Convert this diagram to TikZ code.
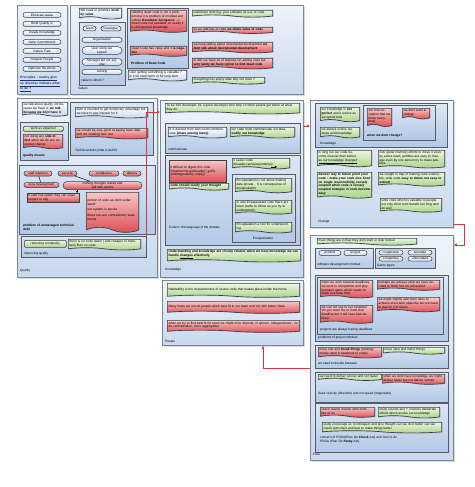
\documentclass[tikz,border=0pt]{standalone}
\usepackage{fontspec}
\setmainfont{Liberation Sans}
\usepackage{tikz}
\usetikzlibrary{calc,arrows.meta,shapes,shapes.symbols,shapes.misc,positioning,shadows}
\usepackage{xcolor}
\definecolor{mpanel}{HTML}{7d8894}
\definecolor{mpantop}{HTML}{edf3fa}
\definecolor{mpanbot}{HTML}{c9d9ee}
\definecolor{mgrptop}{HTML}{dbe6f4}
\definecolor{mgrpbot}{HTML}{b3c9e6}
\definecolor{mdark}{HTML}{3a3f45}
\definecolor{mgtop}{HTML}{ecf6e0}
\definecolor{mgbot}{HTML}{abd38a}
\definecolor{mrtop}{HTML}{f7c6c6}
\definecolor{mrbot}{HTML}{dc4f55}
\definecolor{mbtop}{HTML}{ffffff}
\definecolor{mbbot}{HTML}{c4d6ee}
\definecolor{mred}{HTML}{d9363e}
\definecolor{mnavy}{HTML}{1d2f6b}
\tikzset{
  every node/.style={font=\fontsize{3.2}{3.8}\selectfont},
  panel/.style={draw=mpanel,line width=0.9pt,top color=mpantop,bottom color=mpanbot,
    anchor=north west,inner sep=0pt,
    drop shadow={opacity=0.3,shadow xshift=1.2pt,shadow yshift=-1.2pt}},
  group/.style={draw=mdark!85,line width=0.85pt,top color=mgrptop,bottom color=mgrpbot,
    anchor=north west,inner sep=0pt,
    drop shadow={opacity=0.25,shadow xshift=0.8pt,shadow yshift=-0.8pt}},
  note/.style={tape,tape bend top=none,tape bend bottom=out and in,tape bend height=2.2pt,
    draw=mdark,line width=0.65pt,anchor=north west,align=left,inner xsep=1.2pt,inner ysep=0.8pt,
    drop shadow={opacity=0.3,shadow xshift=0.7pt,shadow yshift=-0.7pt}},
  gnote/.style={note,top color=mgtop,bottom color=mgbot},
  rnote/.style={note,top color=mrtop,bottom color=mrbot},
  bnote/.style={note,top color=mbtop,bottom color=mbbot},
  rbox/.style={rectangle,draw=mdark,line width=0.65pt,top color=mrtop,bottom color=mrbot,
    anchor=north west,align=left,inner xsep=1.2pt,inner ysep=1pt,
    drop shadow={opacity=0.3,shadow xshift=0.7pt,shadow yshift=-0.7pt}},
  gbox/.style={rectangle,rounded corners=1.2pt,draw=mdark,line width=0.6pt,top color=mgtop,
    bottom color=mgbot,anchor=north west,inner sep=0.6pt},
  pill/.style={rounded rectangle,draw=mdark,line width=0.5pt,top color=white,bottom color=mbbot,
    minimum height=5pt,inner xsep=1pt,inner ysep=0.4pt,align=center},
  rpill/.style={pill,top color=mrtop,bottom color=mrbot},
  glabel/.style={anchor=north west,inner sep=0pt,align=left},
  bl/.style={font=\fontsize{3.2}{3.8}\selectfont\bfseries},
  blk/.style={draw=black,line width=0.45pt},
  blkarr/.style={blk,-{Triangle[length=2pt,width=2pt]}},
  redarr/.style={draw=mred,line width=0.6pt,-{Triangle[length=3pt,width=2.8pt]}},
}

\begin{document}
\begin{tikzpicture}[x=1pt,y=-1pt]
    \useasboundingbox (0,0) rectangle (474,487);
    % principles
    \node[panel,minimum width=50pt,minimum height=89pt] (prin) at (17,5) {};
    \foreach \t [count=\i] in {Eliminate waste,Build Quality in,Create Knowledge,Defer Commitment,Deliver Fast,Respect People,Optimize the whole}
      \node[pill,minimum width=40pt] (pr\i) at (42,6+9*\i) {\t};
    \node[glabel,bl,text=mnavy,text width=46pt] (prinlbl) at (20,76) {\underline{Principles : mainly give} \underline{us directive indicate what} \underline{to do ?}};
    % values
    \node[panel,minimum width=233pt,minimum height=89pt] (vals) at (70,5) {};
    \node[glabel] (valslbl) at (78,87) {Values};
    \node[bnote,text width=40pt] (prio) at (79,8) {We need to prioritize \textbf{work by value}};
    \node[group,minimum width=46pt,minimum height=63pt] (whom) at (79,22) {};
    \node[pill,minimum width=15pt] (team) at (89.5,28.5) {Team};
    \node[pill,minimum width=22pt] (dev) at (111,28.5) {Developer};
    \foreach \t/\y [count=\i] in {Organisation/40,{User using our\\system}/50.5,{Manager but not any\\else}/62,Society/72}
      \node[pill,minimum width=42pt] (wh\i) at (102,\y) {\t};
    \node[glabel] (whomlbl) at (81,79) {value to whom ?};
    % dead code
    \node[group,minimum width=61pt,minimum height=60pt] (dead) at (127,8) {};
    \node[rnote,text width=54pt] (arrog) at (130,10) {Deleting dead code is not a problem but it is problem of mindset and culture \textbf{Developer Arrogance} -- I mean code not available on reality it is unimportant knowledge};
    \node[rnote,text width=54pt] (negval) at (130,46) {Dead Code has value and it \textbf{is negative}};
    \node[glabel,bl] (deadlbl) at (131,62) {Problem of Dead Code};
    \node[bnote,text width=56pt] (term) at (128,70) {User getting something is valuable ? is it for short term or for long term};
    \node[gnote,text width=78pt] (buy) at (192,10) {customers dont buy your software its use of code};
    \node[rnote,text width=78pt] (dilute) at (192,27) {so we add line of code \textbf{we dilute value of code}};
    \node[rnote,text width=78pt] (decr) at (192,42) {we keep talking about incremental development \textbf{we dont talk about decremental development}};
    \node[rnote,text width=78pt] (ide) at (192,58) {In IDE we have lot of features for adding code but \textbf{very rarely we have option to find dead code}};
    \node[gnote,text width=70pt] (expiry) at (192,77) {\textit{Everything has expiry date why not code ?}};
    % quality
    \node[panel,minimum width=140pt,minimum height=179pt] (qual) at (17,98) {};
    \node[glabel] (quallbl) at (20,269) {Quality};
    \node[bnote,text width=43pt] (talk) at (22,102) {we talk about quality not because we have it, \textbf{we talk because we dont have it}};
    \node[group,minimum width=48pt,minimum height=38pt] (qmeans) at (20,122) {};
    \node[gbox,minimum width=40pt,minimum height=5pt] (expct) at (23,126) {work as expected};
    \node[rnote,text width=37pt] (side) at (23,134) {not doing any \textbf{side effect} when we do any expected change};
    \node[glabel,bl] (qmlbl) at (23,154) {quality means};
    \node[group,minimum width=83pt,minimum height=53pt] (debt) at (70,102) {};
    \node[bnote,text width=70pt] (invent) at (75,107) {debt is invented to get temporary advantage but we have to pay interest for it};
    \node[rnote,text width=70pt] (payback) at (75,128) {we should be very good at paying back debt and not creating new one};
    \node[glabel] (debtlbl) at (75,149) {Technical debt (what is debt?)};
    % unmanaged debt
    \node[group,minimum width=136pt,minimum height=69pt] (unman) at (19,165) {};
    \foreach \t/\x/\w [count=\i] in {staff retention/38/30pt,security/67.5/21pt,compliance/104/32pt,defects/132/20pt}
      \node[rpill,minimum width=\w] (rk\i) at (\x,173.5) {\t};
    \node[rpill,minimum width=37pt] (slow) at (41.5,185) {slow development};
    \node[rpill,minimum width=81pt,minimum height=8pt] (weeks) at (102.5,185.5) {nothing changes makes and\\will take weeks};
    \node[rbox,text width=50pt] (leave) at (27,193) {if staff has option they can leave project or org};
    \node[rnote,text width=50pt,minimum height=40pt,tape bend height=5pt] (secure) at (86,192) {portion of code we dont understand\\[2pt]our system is secure\\[2pt]these two are contradictory statements};
    \node[glabel,bl,text width=55pt] (unlbl) at (23,224) {problem of unmanaged technical debt};
    \draw[blk] (rk1) -- (slow);
    \draw[blk] (rk2) -- (weeks);
    \draw[blkarr] (weeks.south -| leave.north east) ++(-3,0) -- ([xshift=-3pt]leave.north east);
    % improving quality
    \node[group,minimum width=125pt,minimum height=21pt] (improve) at (21,236) {};
    \node[gbox,minimum width=42pt,minimum height=7pt] (cmplx) at (24,240) {removing complexity};
    \node[gnote,text width=70pt] (nocode) at (68,239) {there is no code faster ( and cheaper to maintain) than no code};
    \node[glabel] (implbl) at (24,252) {improving quality};
    % knowledge
    \node[panel,minimum width=143pt,minimum height=177pt] (know) at (160,100) {};
    \node[glabel] (knowlbl) at (165,268) {Knowledge};
    \node[gnote,text width=132pt] (tenx) at (165,103) {To be 10X developer, be a good developer who help 10 other people get better at what they do};
    \node[group,minimum width=135pt,minimum height=30pt] (comm) at (165,123) {};
    \node[bnote,text width=56pt] (latin) at (168,127) {It is derived from latin word communicare \textbf{(share among many)}};
    \node[gnote,text width=62pt] (codify) at (230,127) {our code must communicate our idea, \textbf{codify our knowledge}};
    \node[glabel] (commlbl) at (168,148) {communicate};
    \node[group,minimum width=135pt,minimum height=90pt] (domain) at (165,155) {};
    \node[rbox,text width=55pt,minimum height=22pt] (digest) at (169,160) {it difficult to digest this code if(ipathwords.getReader() getTesentmt(portfolio) .impl())};
    \node[gnote,text width=57pt] (clarify) at (169,183) {\textbf{\textit{code should clarify your thought}}};
    \node[glabel] (domlbl) at (169,226) {Code in the language of the domain};
    \node[gnote,text width=55pt] (easier) at (232,158) {it easier code\\if(reader.canView(portfolio))};
    \node[group,minimum width=63pt,minimum height=68pt] (encap) at (232,174) {};
    \draw[blkarr] ([xshift=10pt]easier.south) -- ++(6,0);
    \node[gnote,text width=54pt] (enc1) at (235,178) {Encapsulation is not about making data private . It is consequence of encapsulation};
    \node[gnote,text width=54pt] (enc2) at (235,200) {In well Encapsulated code there are fewer paths to follow as you try to understand it};
    \node[gnote,text width=54pt] (enc3) at (235,222) {Encapsulation a tool for understanding};
    \node[glabel,anchor=north] (enclbl) at (263,237) {Encapsulation};
    \node[gnote,text width=131pt] (closely) at (167,249) {\textbf{Understanding and knowledge are closely related, when we have knowledge we can handle \underline{changes} effectively}};
    % people
    \node[panel,minimum width=141pt,minimum height=65pt] (ppl) at (162,280) {};
    \node[glabel] (ppllbl) at (165,340) {People};
    \node[gnote,text width=130pt,minimum height=14pt] (habit) at (167,283) {Habitability is the characteristics of source code that makes place inside the home};
    \node[rnote,text width=130pt,minimum height=12pt] (recruit) at (167,301) {Many times we recruit people which best fit to our team and not with better ideas};
    \node[rnote,text width=130pt,minimum height=12pt] (bestfit) at (167,320) {when we try to find best fit for team we might miss diversity of opinion, independence , no de-centralization, more aggregation};
    % change
    \node[panel,minimum width=143pt,minimum height=127pt] (chg) at (310,100) {};
    \node[glabel] (chglbl) at (318,220) {Change};
    \node[group,minimum width=132pt,minimum height=44pt] (cknow) at (315,103) {};
    \node[gnote,text width=37pt] (perfect) at (320,107) {our knowledge is \textbf{not perfect} and it evolve as we spend time};
    \node[gnote,text width=37pt] (evolve) at (320,127) {we always evolve our ideas and knowledge};
    \node[glabel] (cknowlbl) at (320,142) {Knowledge};
    \node[group,minimum width=72pt,minimum height=35pt] (nochg) at (363,105) {};
    \node[rnote,text width=22pt] (miscon) at (367,108) {our misconception that we know everything};
    \node[rnote,text width=25pt] (dontwant) at (402,108) {we dont want to change};
    \node[glabel,bl] (nochglbl) at (367,134) {when we dont change?};
    \node[gnote,text width=52pt] (messier) at (317,150) {in long run our code become messier than before \underline{as our knowledge changed}};
    \node[gnote,text width=64pt] (pebble) at (378,150) {nick (peter marmot) efforts to move it even by active team, pebbles are easy to manage even by one person try to make pebbles};
    \node[gnote,text width=52pt] (proof) at (317,172) {\textbf{\textit{Easiest way to future proof your code : make your code less fixed on single responsibility, loosely coupled when code is loosely coupled changes in code become easy}}};
    \node[gnote,text width=64pt] (extend) at (378,172) {we caught in trap of making code extensible, write code \textbf{easy to delete not easy to extend}};
    \node[gnote,text width=59pt] (longterm) at (380,198) {write code which is valuable to people not only short term benefit but long term as well};
    % flow
    \node[panel,minimum width=143pt,minimum height=225pt] (flow) at (310,235) {};
    \node[glabel] (flowlbl) at (313,453) {Flow};
    \node[gnote,text width=97pt] (forever) at (317,238) {Even things are in flow they dont start or stop forever};
    \node[group,minimum width=58pt,minimum height=20pt] (mind) at (315,248) {};
    \node[pill,minimum width=24pt] (prod) at (330,253) {product};
    \node[pill,minimum width=25pt] (proj) at (355.5,253) {project};
    \node[glabel] (mindlbl) at (317,263) {software development mindset};
    \node[group,minimum width=60pt,minimum height=20pt] (games) at (375,248) {};
    \foreach \t/\x/\y [count=\i] in {cooperative/391/252.5,bounded/420/252.5,competitive/391/258.8,unbounded/420/258.8}
      \node[pill,minimum width=26pt,minimum height=4.6pt] (gm\i) at (\x,\y) {\t};
    \node[glabel] (gameslbl) at (377,264) {Game types};
    \node[group,minimum width=133pt,minimum height=66pt] (pmind) at (315,275) {};
    \node[group,minimum width=126pt,minimum height=57pt] (dline) at (317,277) {};
    \node[rnote,text width=50pt] (bounded) at (320,280) {when we work towards deadlines, we work in competition and play bounded game which needs to finish in a finite time};
    \node[rnote,text width=60pt] (exhaust) at (377,280) {perhaps we achieve what we have decided to finish but we exhausted};
    \node[rnote,text width=60pt] (moredev) at (377,297) {we might slightly add more devs to achieve short term objective but we need to pay for it in future};
    \node[rnote,text width=50pt] (customer) at (320,305) {we can not say to our customer `do you want me to meet that deadline but it will have bad delivery'};
    \node[glabel] (dlinelbl) at (320,328) {projects are always having deadlines};
    \node[glabel] (pmindlbl) at (318,336) {problems of project mindset};
    \node[group,minimum width=133pt,minimum height=23pt] (decide) at (315,345) {};
    \node[rnote,text width=61pt] (breakit) at (318,347) {move fast and \textbf{break things} (strategy mostly used in facebook to scale)};
    \node[gnote,text width=59pt] (mend) at (383,347) {move slow and mend things};
    \node[glabel] (decidelbl) at (318,362) {we need to decide between};
    \node[group,minimum width=133pt,minimum height=30pt] (velo) at (315,372) {};
    \node[gnote,text width=61pt] (sooner) at (318,374) {we need to deliver sooner and not faster};
    \node[rnote,text width=60pt] (faster) at (382,374) {when we dont have knowledge we might deliver faster but not deliver sooner};
    \node[glabel] (velolbl) at (318,392) {Seek velocity (direction) and not speed (magnitude)};
    \node[group,minimum width=133pt,minimum height=49pt] (pdsa) at (315,403) {};
    \node[rnote,text width=52pt] (check) at (320,407) {check mainly involve short term - like or no};
    \node[gnote,text width=59pt] (study) at (378,407) {study sounds alot `r' involves deliberate efforts which evolve our knowledge};
    \node[gnote,text width=117pt] (introspect) at (322,422) {study encourage us to introspect and give thought can we do it better can we check with client architect to make things better};
    \node[glabel,text width=120pt] (pdsalbl) at (320,436) {concern of PDCA(Plan Do \textbf{Check} Act) and how to do\\PDSA (Plan Do \textbf{Study} Act)};
    % red links between panels
    \draw[redarr] ([xshift=-1pt]improve.north east) |- ([yshift=-12pt]know.north west);
    \draw[redarr] ([yshift=-26pt]know.north east) -- ([yshift=-26pt]chg.north west);
    \draw[redarr] ([yshift=4pt]chg.south east) -- ++(10,0) |- ([yshift=-10pt]flow.north east);
    \draw[redarr] ([yshift=-133pt]flow.north west) -| ([xshift=30pt]ppl.south);
\end{tikzpicture}
\end{document}
